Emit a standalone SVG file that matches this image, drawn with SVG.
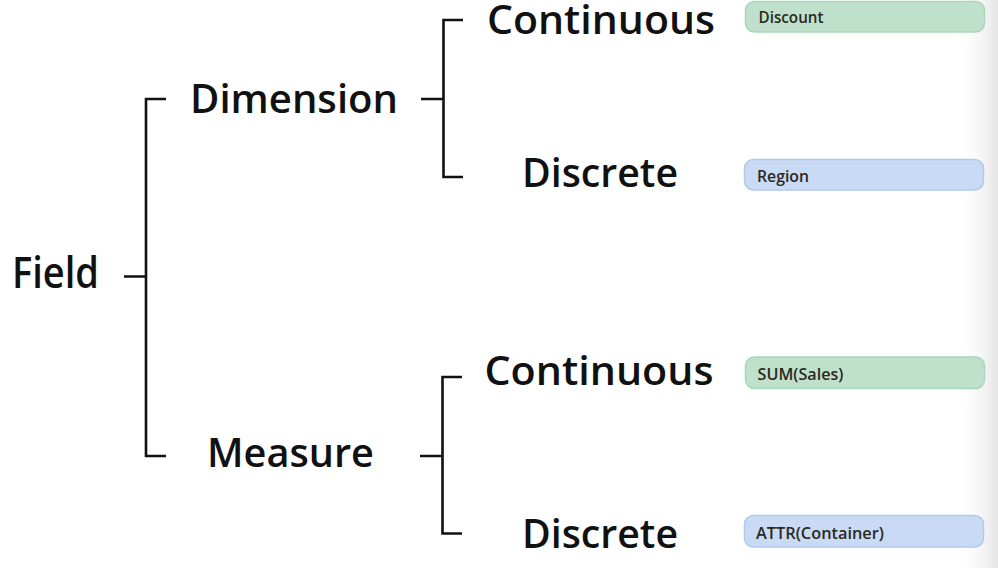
<svg xmlns="http://www.w3.org/2000/svg" width="998" height="568" viewBox="0 0 998 568">
<defs>
<linearGradient id="edge" x1="0" y1="0" x2="1" y2="0">
<stop offset="0" stop-color="#ffffff" stop-opacity="0"/>
<stop offset="1" stop-color="#e4e4e4"/>
</linearGradient>
<style>
.lbl{font-family:"Open Sans","Noto Sans","Liberation Sans",sans-serif;font-weight:650;fill:#111;}
.pilltxt{font-family:"Open Sans","Noto Sans","Liberation Sans",sans-serif;font-weight:550;font-size:16.5px;fill:#2b2822;}
.conn{fill:none;stroke:#111;stroke-width:2.6;}
.green{fill:#bfe1cb;stroke:#a9d5b8;stroke-width:1.5;}
.blue{fill:#c9daf4;stroke:#b2c9ee;stroke-width:1.5;}
</style>
</defs>
<rect x="0" y="0" width="998" height="568" fill="#ffffff"/>
<rect x="955" y="0" width="43" height="568" fill="url(#edge)"/>

<g id="connectors">
<path class="conn" d="M124,276.5 H146 M166,99 H146 V456 H166"/>
<path class="conn" d="M421,99 H443.5 M463,20 H443.5 V177 H463"/>
<path class="conn" d="M420,456 H442.5 M462,377 H442.5 V533.5 H462"/>
</g>

<g id="node-field"><text class="lbl" x="12" y="288" font-size="43" textLength="87" lengthAdjust="spacingAndGlyphs">Field</text></g>
<g id="node-dimension"><text class="lbl" x="190" y="112.5" font-size="40" textLength="208" lengthAdjust="spacingAndGlyphs">Dimension</text></g>
<g id="node-measure"><text class="lbl" x="207" y="467" font-size="40" textLength="167" lengthAdjust="spacingAndGlyphs">Measure</text></g>
<g id="node-dim-continuous"><text class="lbl" x="487" y="33.5" font-size="40" textLength="228" lengthAdjust="spacingAndGlyphs">Continuous</text></g>
<g id="node-dim-discrete"><text class="lbl" x="522" y="187" font-size="39" textLength="156" lengthAdjust="spacingAndGlyphs">Discrete</text></g>
<g id="node-mea-continuous"><text class="lbl" x="484.5" y="385" font-size="40" textLength="229" lengthAdjust="spacingAndGlyphs">Continuous</text></g>
<g id="node-mea-discrete"><text class="lbl" x="522" y="547.5" font-size="40" textLength="156" lengthAdjust="spacingAndGlyphs">Discrete</text></g>

<g id="pill-discount"><rect class="green" x="745.5" y="1.5" width="239" height="30.5" rx="9"/><text class="pilltxt" x="758.5" y="22.5" textLength="65" lengthAdjust="spacingAndGlyphs">Discount</text></g>
<g id="pill-region"><rect class="blue" x="744.5" y="159.5" width="239" height="30.5" rx="9"/><text class="pilltxt" x="757" y="181.5" textLength="52" lengthAdjust="spacingAndGlyphs">Region</text></g>
<g id="pill-sum-sales"><rect class="green" x="745.5" y="357" width="239" height="31.5" rx="9"/><text class="pilltxt" x="757.5" y="380" textLength="86" lengthAdjust="spacingAndGlyphs">SUM(Sales)</text></g>
<g id="pill-attr-container"><rect class="blue" x="744.5" y="515.5" width="239" height="31.5" rx="9"/><text class="pilltxt" x="756" y="539" textLength="128" lengthAdjust="spacingAndGlyphs">ATTR(Container)</text></g>
</svg>
